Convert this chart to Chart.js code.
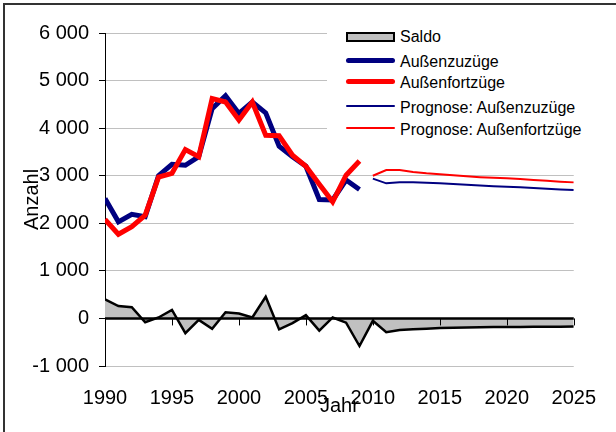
<!DOCTYPE html>
<html>
<head>
<meta charset="utf-8">
<script src="https://cdn.jsdelivr.net/npm/chart.js@4/dist/chart.umd.min.js"></script>
<style>
  html, body { margin: 0; background: #fff; overflow: hidden; }
  #wrap { position: relative; width: 616px; height: 432px; overflow: hidden; font-family: "Liberation Sans", Arial, sans-serif; }
  #myChart { display: block; }
  #frameTop { position: absolute; left: 3px; top: 3px; width: 613px; height: 2px; background: #333; }
  #frameLeft { position: absolute; left: 3px; top: 3px; width: 2px; height: 429px; background: #333; }
  #legend { position: absolute; left: 327px; top: 22px; width: 265px; height: 120px; background: #fff; }
  .row { position: absolute; left: 0; height: 20px; width: 265px; }
  .sym { position: absolute; left: 19px; width: 49px; }
  .txt { position: absolute; left: 73px; top: 0; line-height: 20px; font-size: 16px; color: #000; white-space: nowrap; }
</style>
</head>
<body>
<div id="wrap">
  <canvas id="myChart" width="616" height="432"></canvas>
  <div id="frameTop"></div>
  <div id="frameLeft"></div>
  <div id="legend"></div>
</div>
<script>
var years = [1990, 1991, 1992, 1993, 1994, 1995, 1996, 1997, 1998, 1999,
             2000, 2001, 2002, 2003, 2004, 2005, 2006, 2007, 2008, 2009];
var zuzuege = [2520, 2030, 2190, 2140, 3000, 3240, 3220, 3400, 4410, 4680,
               4310, 4550, 4320, 3620, 3400, 3200, 2500, 2490, 2910, 2710];
var fortzuege = [2080, 1770, 1930, 2170, 2970, 3050, 3550, 3400, 4620, 4550,
                 4170, 4550, 3850, 3840, 3430, 3200, 2820, 2450, 3010, 3310];

var prognoseYears = [2010, 2011, 2012, 2013, 2014, 2015, 2016, 2017,
                     2018, 2019, 2020, 2021, 2022, 2023, 2024, 2025];
var prognoseZu = [2940, 2840, 2865, 2860, 2850, 2840, 2825, 2810,
                  2795, 2780, 2770, 2755, 2740, 2725, 2710, 2700];
var prognoseFort = [3000, 3120, 3120, 3080, 3050, 3030, 3010, 2990,
                    2970, 2955, 2945, 2930, 2910, 2895, 2875, 2860];

var saldoYears = years.concat(prognoseYears);
var saldo = [400, 260, 235, -80, 20, 180, -310, -30, -220, 130,
             105, 20, 455, -230, -100, 70, -255, 20, -90, -580,
             -50, -290, -245, -230, -215, -200, -195, -190, -185, -182,
             -180, -178, -176, -175, -175, -170];

var yTicks = [-1000, 0, 1000, 2000, 3000, 4000, 5000, 6000];
var xTicks = [1990, 1995, 2000, 2005, 2010, 2015, 2020, 2025];

var legendItems = [
    { label: 'Saldo', type: 'box', color: '#c0c0c0', top: 5 },
    { label: 'Außenzuzüge', type: 'line', color: '#000080', width: 5, top: 30 },
    { label: 'Außenfortzüge', type: 'line', color: '#ff0000', width: 5, top: 51 },
    { label: 'Prognose: Außenzuzüge', type: 'line', color: '#000080', width: 2, top: 76 },
    { label: 'Prognose: Außenfortzüge', type: 'line', color: '#ff0000', width: 2, top: 98 }
];

function points(xs, ys) {
    return xs.map(function (x, i) { return { x: x, y: ys[i] }; });
}

function formatThousands(v) {
    var s = String(Math.abs(v)).replace(/\B(?=(\d{3})+(?!\d))/g, ' ');
    return (v < 0 ? '-' : '') + s;
}

// zero line of the x axis with its small tick marks
var zeroAxis = {
    id: 'zeroAxis',
    afterDatasetsDraw: function (chart) {
        var ctx = chart.ctx;
        var x = chart.scales.x;
        var y = chart.scales.y;
        var y0 = y.getPixelForValue(0);
        ctx.save();
        ctx.strokeStyle = '#000';
        ctx.lineWidth = 2.5;
        ctx.beginPath();
        ctx.moveTo(x.getPixelForValue(xTicks[0]), y0);
        ctx.lineTo(x.getPixelForValue(xTicks[xTicks.length - 1]), y0);
        ctx.stroke();
        ctx.lineWidth = 1;
        ctx.beginPath();
        xTicks.forEach(function (t) {
            var px = Math.round(x.getPixelForValue(t)) + 0.5;
            ctx.moveTo(px, y0);
            ctx.lineTo(px, y0 + 7);
        });
        ctx.stroke();
        ctx.restore();
    }
};

function createLegend() {
    var box = document.getElementById('legend');
    legendItems.forEach(function (item) {
        var row = document.createElement('div');
        row.className = 'row';
        row.style.top = item.top + 'px';
        var sym = document.createElement('div');
        sym.className = 'sym';
        if (item.type === 'box') {
            sym.style.top = '5px';
            sym.style.height = '6px';
            sym.style.width = '45px';
            sym.style.background = item.color;
            sym.style.border = '2px solid #000';
        } else {
            sym.style.top = (8 - item.width / 2) + 'px';
            sym.style.height = item.width + 'px';
            sym.style.background = item.color;
            sym.style.borderRadius = (item.width / 2) + 'px';
        }
        var txt = document.createElement('div');
        txt.className = 'txt';
        txt.textContent = item.label;
        row.appendChild(sym);
        row.appendChild(txt);
        box.appendChild(row);
    });
}

function createChart() {
    var ctx = document.getElementById('myChart').getContext('2d');
    Chart.defaults.font.family = '"Liberation Sans", Arial, sans-serif';
    Chart.defaults.color = '#000';
    new Chart(ctx, {
        type: 'line',
        data: {
            datasets: [
                {
                    label: 'Saldo',
                    data: points(saldoYears, saldo),
                    borderColor: '#000',
                    borderWidth: 2.5,
                    backgroundColor: '#c0c0c0',
                    fill: 'origin',
                    order: 5
                },
                {
                    label: 'Außenzuzüge',
                    data: points(years, zuzuege),
                    borderColor: '#000080',
                    borderWidth: 5,
                    order: 4
                },
                {
                    label: 'Außenfortzüge',
                    data: points(years, fortzuege),
                    borderColor: '#ff0000',
                    borderWidth: 5,
                    order: 3
                },
                {
                    label: 'Prognose: Außenzuzüge',
                    data: points(prognoseYears, prognoseZu),
                    borderColor: '#000080',
                    borderWidth: 2,
                    order: 2
                },
                {
                    label: 'Prognose: Außenfortzüge',
                    data: points(prognoseYears, prognoseFort),
                    borderColor: '#ff0000',
                    borderWidth: 2,
                    order: 1
                }
            ]
        },
        options: {
            responsive: false,
            animation: false,
            elements: {
                point: { radius: 0 },
                line: { tension: 0, fill: false }
            },
            layout: { padding: { top: 33, right: 33.5, bottom: 0, left: 0 } },
            plugins: {
                legend: { display: false },
                tooltip: { enabled: false }
            },
            scales: {
                x: {
                    type: 'linear',
                    min: 1990,
                    max: 2025,
                    afterBuildTicks: function (scale) {
                        scale.ticks = xTicks.map(function (v) { return { value: v }; });
                    },
                    afterFit: function (scale) { scale.height = 66; },
                    grid: { display: false, drawTicks: false },
                    border: { display: false },
                    ticks: {
                        font: { size: 20 },
                        padding: 20,
                        maxRotation: 0,
                        callback: function (v) { return String(v); }
                    },
                    title: {
                        display: true,
                        text: 'Jahr',
                        font: { size: 20 },
                        padding: { top: 0, bottom: 14 }
                    }
                },
                y: {
                    min: -1000,
                    max: 6000,
                    afterBuildTicks: function (scale) {
                        scale.ticks = yTicks.map(function (v) { return { value: v }; });
                    },
                    afterFit: function (scale) { scale.width = 105; },
                    grid: {
                        color: function (c) { return c.tick && c.tick.value === 0 ? 'rgba(0,0,0,0)' : '#c0c0c0'; },
                        tickColor: '#000',
                        tickLength: 6,
                        lineWidth: 1
                    },
                    border: { display: true, color: '#000', width: 1 },
                    ticks: {
                        font: { size: 20 },
                        padding: 10,
                        callback: function (v) { return formatThousands(v); }
                    },
                    title: {
                        display: true,
                        text: 'Anzahl',
                        font: { size: 20 },
                        padding: { top: 20, bottom: 0 }
                    }
                }
            }
        },
        plugins: [zeroAxis]
    });
}

createLegend();
createChart();
</script>
</body>
</html>
